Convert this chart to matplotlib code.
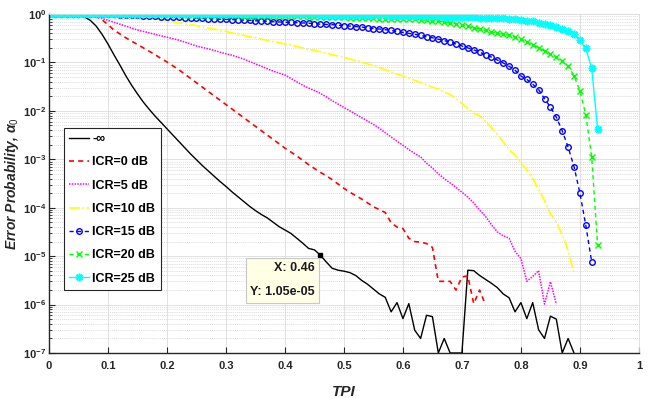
import numpy as np
import matplotlib
matplotlib.use("Agg")
import matplotlib.pyplot as plt
from matplotlib.ticker import FixedLocator, LogLocator, NullFormatter

plt.rcParams['font.family'] = ['Liberation Sans', 'DejaVu Sans']
plt.rcParams['mathtext.fontset'] = 'custom'
plt.rcParams['mathtext.rm'] = 'Liberation Sans'
plt.rcParams['mathtext.bf'] = 'Liberation Sans:bold'
plt.rcParams['mathtext.it'] = 'Liberation Sans:italic:bold'

# ---- data (log10 of error probability) ----
log10_neg_inf = [0, 0, 0, 0, -0.005, -0.02, -0.06, -0.13, -0.25, -0.42,
                 -0.62, -0.84, -1.05, -1.27, -1.47, -1.65, -1.82, -1.97, -2.11, -2.24,
                 -2.37, -2.50, -2.63, -2.76, -2.89, -3.01, -3.13, -3.24, -3.35, -3.46,
                 -3.56, -3.67, -3.77, -3.87, -3.97, -4.06, -4.14, -4.21, -4.30, -4.39,
                 -4.46, -4.53, -4.63, -4.73, -4.84, -4.87, -4.979, -5.12, -5.25, -5.29,
                 -5.31, -5.34, -5.40, -5.50, -5.58, -5.68, -5.78, -5.85, -6.15, -5.96,
                 -6.29, -5.98, -6.53, -6.70, -6.22, -6.25, -7, -6.70, -7, -7,
                 -7, -5.29, -5.30, -5.40, -5.48, -5.56, -5.65, -5.78, -5.86, -6.15,
                 -5.96, -6.29, -5.96, -6.52, -6.70, -6.24, -6.30, -7, -6.70, -7]

log10_icr0 = [0, 0, 0, 0, 0, 0, 0, -0.01, -0.05, -0.12,
              -0.22, -0.33, -0.41, -0.49, -0.56, -0.63, -0.70, -0.77, -0.84, -0.92,
              -0.99, -1.07, -1.15, -1.24, -1.33, -1.42, -1.51, -1.60, -1.69, -1.78,
              -1.87, -1.96, -2.05, -2.14, -2.23, -2.32, -2.41, -2.50, -2.59, -2.68,
              -2.77, -2.85, -2.93, -3.02, -3.11, -3.19, -3.27, -3.34, -3.42, -3.51,
              -3.60, -3.68, -3.75, -3.82, -3.90, -3.98, -4.04, -4.10, -4.31, -4.40,
              -4.43, -4.63, -4.70, -4.71, -4.74, -4.82, -5.52, -5.52, -5.52, -5.70,
              -5.43, -5.41, -5.98, -5.70, -6.01]

log10_icr5 = [0, 0, 0, 0, 0, 0, -0.01, -0.03, -0.06, -0.09,
              -0.13, -0.17, -0.21, -0.25, -0.29, -0.33, -0.36, -0.39, -0.42, -0.45,
              -0.48, -0.51, -0.54, -0.58, -0.62, -0.66, -0.69, -0.72, -0.75, -0.79,
              -0.82, -0.85, -0.89, -0.93, -0.98, -1.03, -1.08, -1.13, -1.18, -1.22,
              -1.26, -1.33, -1.40, -1.47, -1.53, -1.58, -1.64, -1.71, -1.79, -1.86,
              -1.93, -2.00, -2.07, -2.14, -2.21, -2.28, -2.36, -2.45, -2.54, -2.63,
              -2.71, -2.80, -2.88, -2.95, -3.08, -3.18, -3.30, -3.40, -3.49, -3.58,
              -3.68, -3.78, -3.90, -4.05, -4.18, -4.35, -4.50, -4.58, -4.63, -4.90,
              -5.05, -5.52, -5.42, -5.30, -5.99, -5.53, -5.99]

log10_icr10 = [0, 0, 0, 0, 0, 0, 0, 0, 0, -0.005,
               -0.01, -0.02, -0.03, -0.04, -0.05, -0.06, -0.08, -0.09, -0.11, -0.12,
               -0.14, -0.16, -0.18, -0.20, -0.22, -0.24, -0.27, -0.29, -0.31, -0.34,
               -0.36, -0.39, -0.42, -0.44, -0.47, -0.49, -0.52, -0.54, -0.57, -0.59,
               -0.62, -0.64, -0.67, -0.70, -0.73, -0.75, -0.78, -0.81, -0.84, -0.87,
               -0.90, -0.93, -0.96, -0.99, -1.03, -1.07, -1.11, -1.15, -1.20, -1.24,
               -1.28, -1.32, -1.37, -1.41, -1.46, -1.51, -1.55, -1.61, -1.66, -1.75,
               -1.85, -1.95, -2.05, -2.10, -2.22, -2.35, -2.48, -2.64, -2.80, -2.92,
               -3.07, -3.22, -3.40, -3.62, -3.85, -4.12, -4.30, -4.55, -4.88, -5.36]

log10_icr15 = [0, 0, 0, 0, 0, 0, 0, 0, 0, 0,
               -0.005, -0.01, -0.015, -0.02, -0.025, -0.03, -0.035, -0.04, -0.05, -0.055,
               -0.06, -0.065, -0.07, -0.075, -0.08, -0.085, -0.09, -0.095, -0.10, -0.105,
               -0.11, -0.115, -0.12, -0.125, -0.13, -0.14, -0.145, -0.15, -0.16, -0.165,
               -0.17, -0.175, -0.18, -0.185, -0.19, -0.20, -0.21, -0.215, -0.22, -0.23,
               -0.24, -0.25, -0.26, -0.27, -0.285, -0.30, -0.31, -0.325, -0.34, -0.36,
               -0.38, -0.40, -0.42, -0.44, -0.47, -0.49, -0.52, -0.55, -0.58, -0.62,
               -0.66, -0.70, -0.74, -0.79, -0.84, -0.89, -0.95, -1.01, -1.08, -1.16,
               -1.28, -1.35, -1.45, -1.56, -1.75, -1.92, -2.13, -2.41, -2.75, -3.15,
               -3.70, -4.36, -5.12]

log10_icr20 = [0] * 20 + [
               -0.005, -0.007, -0.009, -0.011, -0.013, -0.015, -0.017, -0.019, -0.021, -0.023,
               -0.025, -0.027, -0.029, -0.031, -0.033, -0.035, -0.037, -0.039, -0.041, -0.043,
               -0.045, -0.047, -0.049, -0.051, -0.053, -0.055, -0.058, -0.061, -0.064, -0.067,
               -0.07, -0.073, -0.077, -0.081, -0.085, -0.09, -0.094, -0.098, -0.10, -0.10,
               -0.10, -0.105, -0.11, -0.12, -0.13, -0.14, -0.15, -0.165, -0.18, -0.20,
               -0.22, -0.25, -0.29, -0.31, -0.34, -0.37, -0.40, -0.42, -0.44, -0.48,
               -0.52, -0.57, -0.63, -0.70, -0.76, -0.82, -0.89, -0.97, -1.08, -1.27,
               -1.59, -2.08, -2.95, -4.77]

log10_icr25 = [0] * 40 + [
               -0.005, -0.006, -0.007, -0.008, -0.009, -0.010, -0.011, -0.012, -0.013, -0.014,
               -0.016, -0.018, -0.020, -0.022, -0.024, -0.026, -0.028, -0.030, -0.032, -0.034,
               -0.036, -0.038, -0.040, -0.042, -0.045, -0.048, -0.051, -0.054, -0.057, -0.060,
               -0.063, -0.066, -0.070, -0.074, -0.078, -0.082, -0.086, -0.090, -0.10, -0.11,
               -0.12, -0.135, -0.15, -0.19, -0.21, -0.23, -0.26, -0.30, -0.35, -0.42,
               -0.54, -0.71, -1.12, -2.38]

series_labels = ['-\u221e', 'ICR=0 dB', 'ICR=5 dB', 'ICR=10 dB',
                 'ICR=15 dB', 'ICR=20 dB', 'ICR=25 dB']
x_ticks = [0, 0.1, 0.2, 0.3, 0.4, 0.5, 0.6, 0.7, 0.8, 0.9, 1]
x_ticklabels = ['0', '0.1', '0.2', '0.3', '0.4', '0.5', '0.6', '0.7', '0.8', '0.9', '1']
y_exponents = [-7, -6, -5, -4, -3, -2, -1, 0]
tip_x, tip_y = 0.46, 1.05e-05

# ---- figure ----
fig = plt.figure(figsize=(6.54, 3.99), dpi=100)
ax = fig.add_axes([0.0749, 0.1153, 0.902, 0.8496])

styles = [
    dict(color='k', ls='-', lw=1.0),
    dict(color='#FF0000', ls=(0, (3, 2.5)), lw=1.2),
    dict(color='#FF00FF', ls=(0, (1, 0.8)), lw=1.1),
    dict(color='#FFFF00', ls='-.', lw=1.2),
    dict(color='#0000FF', ls=(0, (3, 2.5)), lw=1.0, marker='o', ms=4, mfc='none', mew=1.0),
    dict(color='#00FF00', ls=(0, (3, 2.5)), lw=1.0, marker='x', ms=4.5, mew=1.0),
    dict(color='#00FFFF', ls='-', lw=1.0, marker=(8, 2, 0), ms=5.5, mew=1.2),
]
all_logs = [log10_neg_inf, log10_icr0, log10_icr5, log10_icr10,
            log10_icr15, log10_icr20, log10_icr25]
for logs, lab, st in zip(all_logs, series_labels, styles):
    tpi = np.round(np.arange(len(logs)) * 0.01, 2)
    ax.semilogy(tpi, 10.0 ** np.array(logs), label=lab, clip_on=True, **st)

ax.set_xlim(0, 1)
ax.set_ylim(1e-7, 1)
ax.xaxis.set_major_locator(FixedLocator(x_ticks))
ax.set_xticklabels(x_ticklabels)
ax.yaxis.set_major_locator(FixedLocator([10.0 ** e for e in y_exponents]))
ax.set_yticklabels([r'$\mathbf{10^{%d}}$' % e for e in y_exponents])
ax.yaxis.set_minor_locator(LogLocator(base=10, subs=np.arange(2, 10), numticks=20))
ax.yaxis.set_minor_formatter(NullFormatter())

for lab in ax.get_xticklabels() + ax.get_yticklabels():
    lab.set_fontweight('bold')
    lab.set_fontsize(8)
    lab.set_color('#262626')

ax.tick_params(axis='both', which='both', direction='in', top=False, right=False)
ax.tick_params(axis='both', which='major', length=4, width=0.8, colors='#262626')
ax.tick_params(axis='x', which='major', pad=6)
ax.tick_params(axis='y', which='major', pad=2)
ax.tick_params(axis='y', which='minor', length=2, width=0.6, colors='#262626')

ax.grid(True, which='major', color='#dcdcdc', lw=0.6, ls='-')
ax.grid(True, which='minor', axis='y', color='#d0d0d0', lw=0.5, ls=(0, (1.5, 1.5)))
ax.set_axisbelow(True)

for s in ['top', 'right']:
    ax.spines[s].set_color('#dcdcdc')
    ax.spines[s].set_linewidth(0.6)
for s in ['left', 'bottom']:
    ax.spines[s].set_color('#262626')
    ax.spines[s].set_linewidth(1.0)

ax.set_xlabel('TPI', fontsize=11, fontweight='bold', style='italic', color='#262626')
ax.xaxis.set_label_coords(0.5, -0.095)
ax.set_ylabel(r'Error Probability, $\alpha_0$', fontsize=10, fontweight='bold',
              style='italic', color='#262626')
ax.yaxis.set_label_coords(-0.047, 0.5)

leg = ax.legend(loc='lower left', bbox_to_anchor=(0.025, 0.185),
                prop=dict(weight='bold', size=9), frameon=True, fancybox=False,
                edgecolor='#262626', framealpha=1.0, handlelength=1.6,
                handletextpad=0.25, labelspacing=0.9, borderpad=0.45,
                borderaxespad=0.0)
leg.get_frame().set_linewidth(0.8)

# data tip
ax.plot([tip_x], [tip_y], marker='s', color='k', ms=3.5, ls='none')
ax.annotate('X: %.2f\nY: %.2e' % (tip_x, tip_y), xy=(tip_x, tip_y), xytext=(-4, -5),
            textcoords='offset points', ha='right', va='top', fontsize=9,
            fontweight='bold', linespacing=2.35, color='#1a1a1a',
            bbox=dict(boxstyle='square,pad=0.35', fc='#FFFFE6', ec='#c8c8c8', lw=0.8))

fig.savefig('out.png', dpi=100)
